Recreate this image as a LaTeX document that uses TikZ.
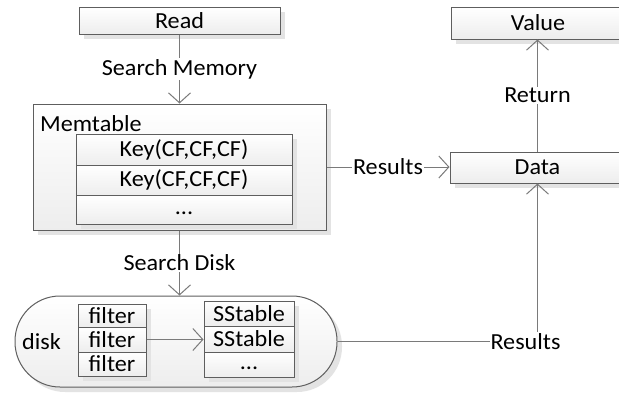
\documentclass[tikz,border=0pt]{standalone}
\usepackage{fontspec}
\setmainfont{Carlito}[FakeStretch=1.05]
\usetikzlibrary{arrows.meta,shadows}
\definecolor{edgec}{HTML}{5E5E5E}
\definecolor{connc}{HTML}{7A7A7A}
\definecolor{shadc}{HTML}{E3E3E3}
\tikzset{
  txt/.style={font=\fontsize{23}{27}\selectfont, text=black},
  box/.style={txt, draw=edgec, line width=1pt, top color=white, bottom color=black!7,
    inner sep=0pt, anchor=center,
    drop shadow={shadow xshift=5pt, shadow yshift=-5pt, fill=shadc, opacity=1}},
  conn/.style={draw=connc, line width=1pt},
  arr/.style={conn, -{Straight Barb[length=10pt,width=22pt]}},
  lblw/.style={txt, fill=white, inner sep=1pt},
}
\begin{document}
\begin{tikzpicture}[x=1pt,y=-1pt]
\fill[white] (0,0) rectangle (619,392);
\useasboundingbox (0,0) rectangle (619,392);
\clip (0,0) rectangle (619,392);
% top boxes
\node[box, minimum width=201pt, minimum height=27pt] (read) at (179.5,20.5) {Read};
\node[box, minimum width=174pt, minimum height=32pt] (value) at (538,23) {Value};
\node[box, minimum width=175pt, minimum height=31pt] (data) at (537.5,167.5) {Data};
% memtable
\node[box, minimum width=293pt, minimum height=126pt] (mem) at (179.5,167) {};
\node[txt, anchor=west, inner sep=0pt] (memlbl) at (40,123.5) {Memtable};
\node[box, minimum width=216pt, minimum height=31pt] (k1) at (184,149.5) {Key(CF,CF,CF)};
\node[box, minimum width=216pt, minimum height=30pt] (k2) at (184,180) {Key(CF,CF,CF)};
\node[box, minimum width=216pt, minimum height=29pt] (k3) at (184,209.5) {\raisebox{-5pt}[0pt][0pt]{...}};
% disk
\node[box, rounded corners=45pt, minimum width=322pt, minimum height=91pt] (disk) at (176,341.5) {};
\node[txt, anchor=west, inner sep=0pt] (disklbl) at (22,342) {disk};
\node[box, minimum width=68pt, minimum height=23pt] (f1) at (112,315.5) {filter};
\node[box, minimum width=68pt, minimum height=25pt] (f2) at (112,339.5) {filter};
\node[box, minimum width=68pt, minimum height=24pt] (f3) at (112,364) {filter};
\node[box, minimum width=90pt, minimum height=25pt] (s1) at (249,313.5) {SStable};
\node[box, minimum width=90pt, minimum height=26pt] (s2) at (249,339) {SStable};
\node[box, minimum width=90pt, minimum height=25pt] (s3) at (249,364.5) {\raisebox{-5pt}[0pt][0pt]{...}};
% connectors
\draw[arr] (read.south) -- node[lblw] (sm) {Search Memory} (read.south |- mem.north);
\draw[arr] (mem.east) -- node[lblw] (res1) {Results} (mem.east -| data.west);
\draw[arr] (data.north) -- node[lblw] (ret) {Return} (data.north |- value.south);
\draw[arr] (mem.south) -- node[lblw] (sd) {Search Disk} (mem.south |- disk.north);
\draw[arr] (f2.east) -- (f2.east -| s2.west);
\draw[arr] (disk.east) -| node[pos=0.5, lblw, xshift=-12pt] (res2) {Results} (data.south);
\end{tikzpicture}
\end{document}
